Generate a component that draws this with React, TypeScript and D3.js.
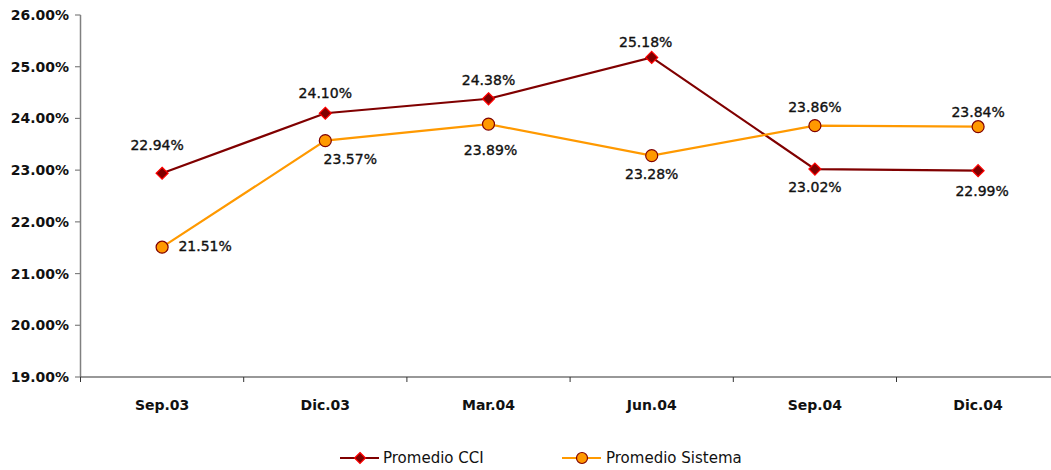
import React from "react";
import * as d3 from "d3";

const categories = ["Sep.03", "Dic.03", "Mar.04", "Jun.04", "Sep.04", "Dic.04"];
const cciValues = [22.94, 24.1, 24.38, 25.18, 23.02, 22.99];
const sistemaValues = [21.51, 23.57, 23.89, 23.28, 23.86, 23.84];
const yTicks = [19, 20, 21, 22, 23, 24, 25, 26];
const seriesNames = ["Promedio CCI", "Promedio Sistema"];

// label placement: [dx, dy] offsets relative to point
const cciLabelOffsets: [number, number][] = [
  [-5, -28], [0, -20], [0, -19], [-6, -15], [0, 18], [4, 20],
];
const sisLabelOffsets: [number, number][] = [
  [43, -1], [25, 18], [2, 26], [0, 18], [0, -19], [0, -15],
];

const W = 1051;
const H = 470;

export default function App() {
  const x = d3.scaleBand<string>().domain(categories).range([80.5, 1059.7]);
  const y = d3.scaleLinear().domain([19, 26]).range([377, 15]);
  const cx = (c: string) => (x(c) ?? 0) + x.bandwidth() / 2;

  const line = d3
    .line<number>()
    .x((_, i) => cx(categories[i]))
    .y((d) => y(d));

  const fontLabel = "'DejaVu Sans', Verdana, sans-serif";
  const diamond = (px: number, py: number, r: number) =>
    `M${px},${py - r}L${px + r},${py}L${px},${py + r}L${px - r},${py}Z`;

  const boundaries = categories.map((c) => x(c) ?? 0);

  return (
    <svg
      width={W}
      height={H}
      style={{ position: "absolute", left: 0, top: 0, background: "#fff" }}
    >
      {/* Y axis */}
      <line x1={80.5} x2={80.5} y1={y(26)} y2={y(19)} stroke="#808080" strokeWidth={1.5} />
      {yTicks.map((t) => (
        <g key={t}>
          <line x1={75} x2={80.5} y1={y(t)} y2={y(t)} stroke="#808080" strokeWidth={1.2} />
          <text
            x={69}
            y={y(t)}
            dy="0.36em"
            textAnchor="end"
            fontFamily={fontLabel}
            fontWeight="bold"
            fontSize={14}
            fill="#111"
          >
            {t.toFixed(2) + "%"}
          </text>
        </g>
      ))}
      {/* X axis */}
      <line x1={80.5} x2={W} y1={377} y2={377} stroke="#333" strokeWidth={1.2} />
      {boundaries.map((b, i) => (
        <line key={i} x1={b} x2={b} y1={377} y2={382} stroke="#333" strokeWidth={1} />
      ))}
      {categories.map((c) => (
        <text
          key={c}
          x={cx(c)}
          y={410}
          textAnchor="middle"
          fontFamily={fontLabel}
          fontWeight="bold"
          fontSize={14}
          fill="#111"
        >
          {c}
        </text>
      ))}

      {/* Lines */}
      <path d={line(cciValues) ?? ""} fill="none" stroke="#800000" strokeWidth={2.2} />
      <path d={line(sistemaValues) ?? ""} fill="none" stroke="#FF9900" strokeWidth={2.2} />

      {/* Markers */}
      {cciValues.map((v, i) => (
        <path
          key={"cm" + i}
          d={diamond(cx(categories[i]), y(v), 6)}
          fill="#800000"
          stroke="#FF0000"
          strokeWidth={1.2}
        />
      ))}
      {sistemaValues.map((v, i) => (
        <circle
          key={"sm" + i}
          cx={cx(categories[i])}
          cy={y(v)}
          r={6}
          fill="#FF9900"
          stroke="#800000"
          strokeWidth={1.2}
        />
      ))}

      {/* Data labels */}
      {cciValues.map((v, i) => (
        <text
          key={"cl" + i}
          x={cx(categories[i]) + cciLabelOffsets[i][0]}
          y={y(v) + cciLabelOffsets[i][1]}
          dy="0.36em"
          textAnchor="middle"
          fontFamily={fontLabel}
          fontSize={14}
          fill="#111"
          stroke="#111"
          strokeWidth={0.35}
        >
          {v.toFixed(2) + "%"}
        </text>
      ))}
      {sistemaValues.map((v, i) => (
        <text
          key={"sl" + i}
          x={cx(categories[i]) + sisLabelOffsets[i][0]}
          y={y(v) + sisLabelOffsets[i][1]}
          dy="0.36em"
          textAnchor="middle"
          fontFamily={fontLabel}
          fontSize={14}
          fill="#111"
          stroke="#111"
          strokeWidth={0.35}
        >
          {v.toFixed(2) + "%"}
        </text>
      ))}

      {/* Legend */}
      <g>
        <line x1={340} x2={379} y1={458} y2={458} stroke="#800000" strokeWidth={2.2} />
        <path d={diamond(360, 458, 5.5)} fill="#800000" stroke="#FF0000" strokeWidth={1.2} />
        <text x={383} y={458} dy="0.36em" fontFamily={fontLabel} fontSize={15} fill="#111">
          {seriesNames[0]}
        </text>
        <line x1={562} x2={601} y1={458} y2={458} stroke="#FF9900" strokeWidth={2.2} />
        <circle cx={582} cy={458} r={5.5} fill="#FF9900" stroke="#800000" strokeWidth={1.2} />
        <text x={606} y={458} dy="0.36em" fontFamily={fontLabel} fontSize={15} fill="#111">
          {seriesNames[1]}
        </text>
      </g>
    </svg>
  );
}
